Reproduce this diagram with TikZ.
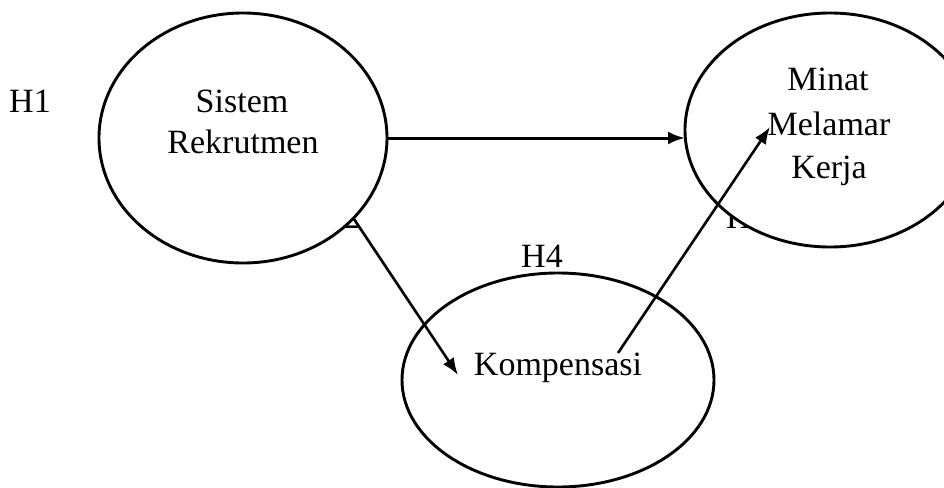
\documentclass[tikz,border=0pt]{standalone}
\usepackage{fontspec}
\setmainfont{Liberation Serif}
\usetikzlibrary{shapes.geometric,arrows.meta,calc}
\begin{document}
\begin{tikzpicture}[x=1pt,y=-1pt,
  varell/.style={ellipse,draw=black,fill=white,line width=2.9pt,inner sep=0pt,outer sep=0pt},
  lbl/.style={font=\fontsize{34}{40}\selectfont,inner sep=0pt,anchor=base},
  conn/.style={line width=2.6pt,-{Latex[length=17pt,width=13pt]}}]
\useasboundingbox (0,0) rectangle (944,487);
% hidden labels (partly covered by ellipses)
\node[lbl] (h2) at (339,228) {H2};
\node[lbl] (h3) at (747,228) {H3};
% ellipses
\node[varell,minimum width=288pt,minimum height=250pt] (sr) at (243,138) {};
\node[varell,minimum width=290pt,minimum height=234pt] (mm) at (830,130) {};
\node[varell,minimum width=312pt,minimum height=214pt] (ko) at (558,380) {};
% texts
\node[lbl] (h1) at (30,112) {H1};
\node[lbl] (t1) at (242,112) {Sistem};
\node[lbl] (t2) at (243,153) {Rekrutmen};
\node[lbl] (t3) at (828,90) {Minat};
\node[lbl] (t4) at (829,135) {Melamar};
\node[lbl] (t5) at (829,178) {Kerja};
\node[lbl] (h4) at (542,267) {H4};
\node[lbl] (t6) at (558,375) {Kompensasi};
% connector ends
\coordinate (e2) at (458,375);
\coordinate (s3) at (618,353);
\coordinate (e3) at (770,127);
% arrows
\draw[conn,line width=3pt] (sr.east) -- (sr.east -| mm.west);
\draw[conn] (sr.-36) -- (e2);
\draw[conn] (s3) -- (e3);
\end{tikzpicture}
\end{document}
